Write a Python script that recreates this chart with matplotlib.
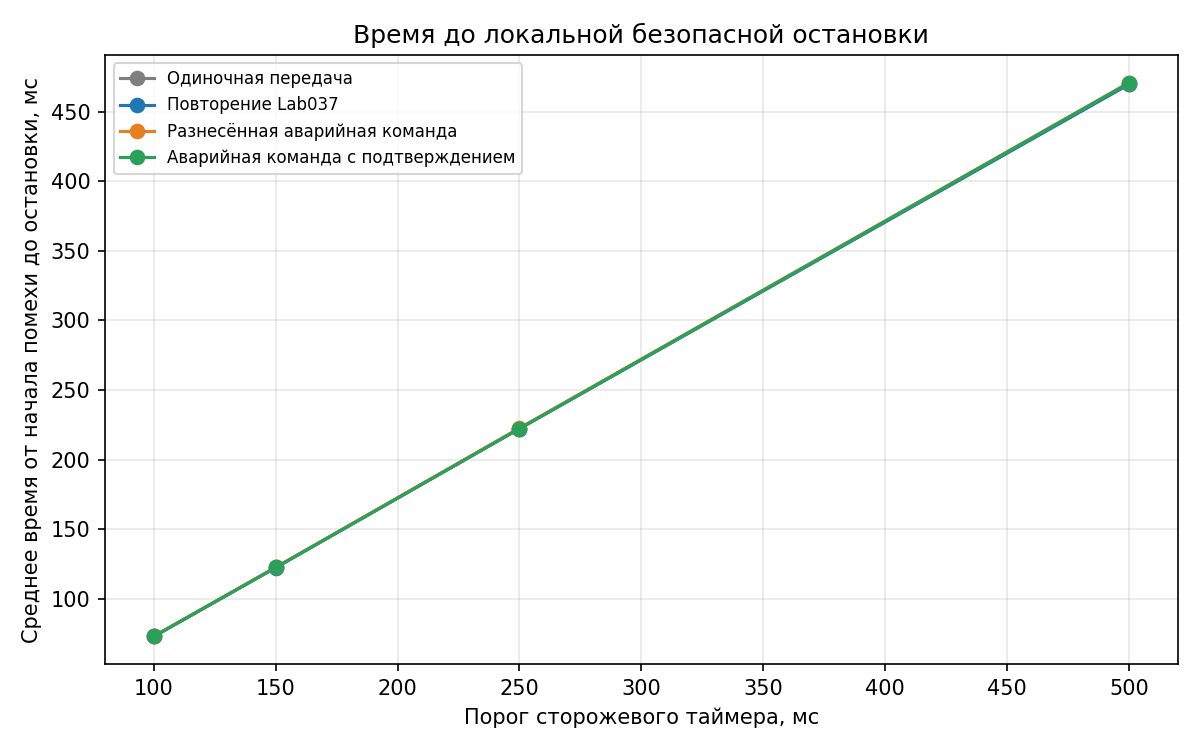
import matplotlib
matplotlib.use("Agg")
import matplotlib.pyplot as plt

# пороги сторожевого таймера, мс
thresholds = [100, 150, 250, 500]

single = [73.0, 122.5, 222.3, 469.8]
repeat_lab037 = [73.0, 122.4, 222.2, 469.4]
spaced_emergency = [73.2, 122.6, 222.6, 470.6]
confirmed_emergency = [73.1, 122.5, 222.3, 470.4]

labels = [
    "Одиночная передача",
    "Повторение Lab037",
    "Разнесённая аварийная команда",
    "Аварийная команда с подтверждением",
]
colors = ["#7f7f7f", "#1f77b4", "#e67e22", "#2ca05a"]

fig, ax = plt.subplots(figsize=(8, 5), dpi=150)

for vals, lab, c in zip([single, repeat_lab037, spaced_emergency, confirmed_emergency], labels, colors):
    ax.plot(thresholds, vals, marker="o", color=c, label=lab, linewidth=1.5, markersize=6.5)

ax.set_title("Время до локальной безопасной остановки")
ax.set_xlabel("Порог сторожевого таймера, мс")
ax.set_ylabel("Среднее время от начала помехи до остановки, мс")
ax.grid(True, alpha=0.3)
ax.legend(fontsize=8, loc="upper left")

fig.tight_layout()
fig.savefig("out.png")
